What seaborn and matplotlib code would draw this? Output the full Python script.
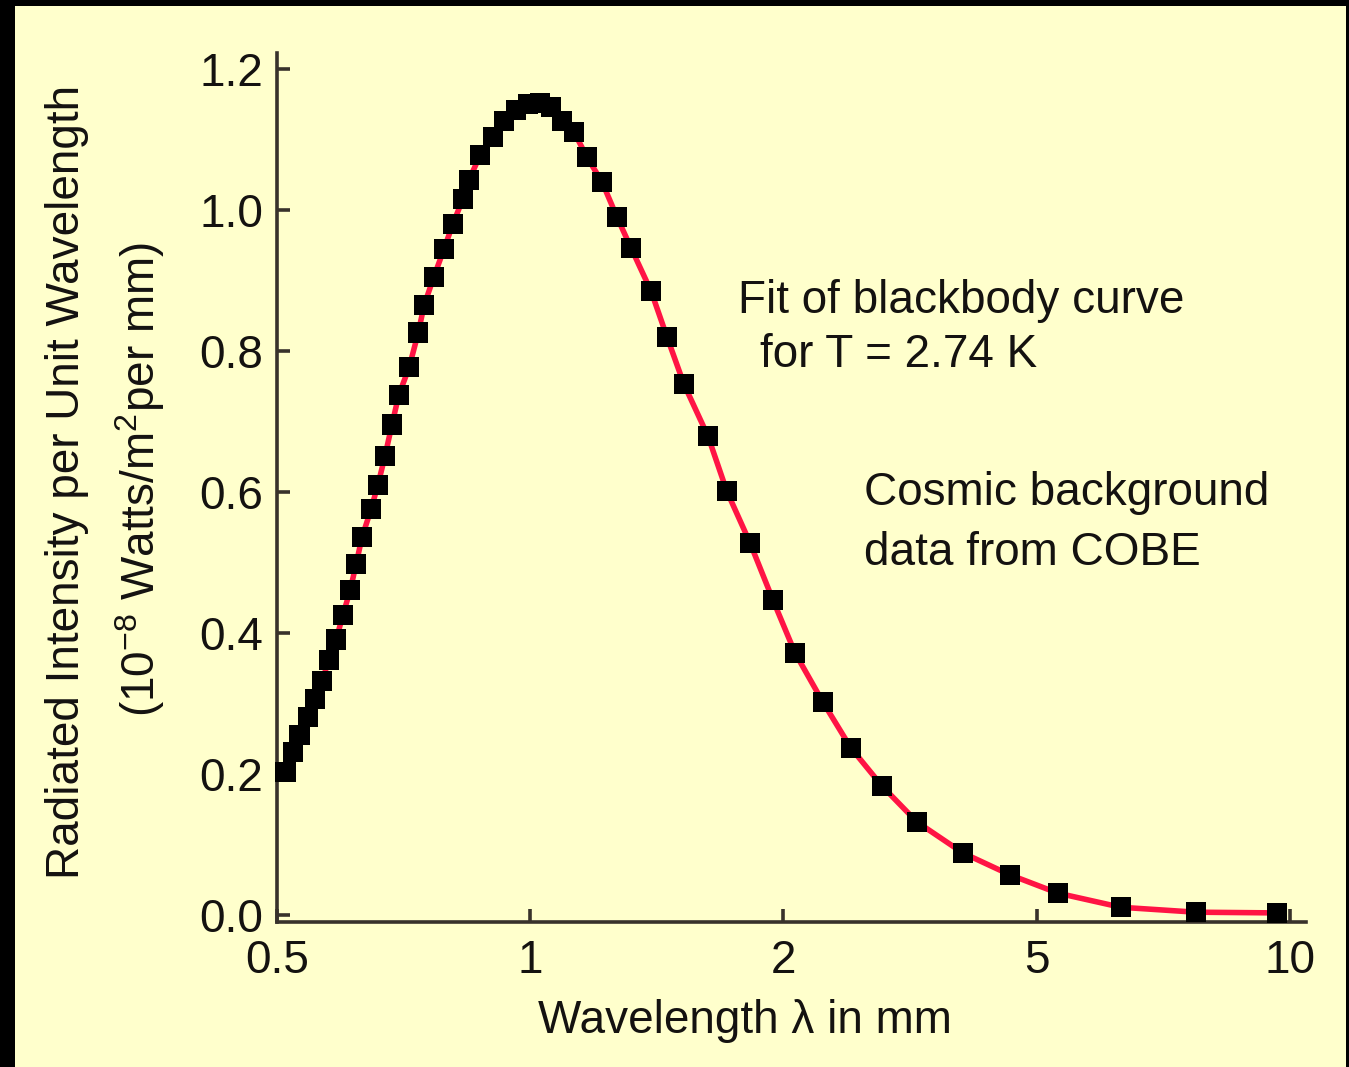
import numpy as np
import pandas as pd
import matplotlib
matplotlib.use("Agg")
import matplotlib.pyplot as plt
from matplotlib.patches import Rectangle
import seaborn as sns

# COBE data points (wavelength in mm, intensity in 1e-8 W/m^2/mm)
wavelength_mm = [
    0.512, 0.522, 0.532, 0.544, 0.555, 0.566, 0.576, 0.588, 0.599, 0.611,
    0.621, 0.631, 0.647, 0.659, 0.672, 0.685, 0.698, 0.718, 0.736, 0.748,
    0.768, 0.790, 0.809, 0.832, 0.846, 0.872, 0.903, 0.931, 0.962, 0.994,
    1.027, 1.058, 1.091, 1.127, 1.168, 1.217, 1.268, 1.318, 1.392, 1.454,
    1.523, 1.627, 1.713, 1.825, 1.943, 2.085, 2.307, 2.553, 2.857, 3.242,
    3.829, 4.539, 5.300, 6.296, 7.732, 9.652,
]
intensity = [
    0.203, 0.231, 0.255, 0.281, 0.306, 0.332, 0.362, 0.391, 0.426, 0.461,
    0.498, 0.536, 0.576, 0.610, 0.651, 0.696, 0.738, 0.777, 0.826, 0.865,
    0.905, 0.945, 0.980, 1.016, 1.043, 1.078, 1.104, 1.126, 1.142, 1.150,
    1.152, 1.146, 1.126, 1.111, 1.075, 1.040, 0.990, 0.946, 0.885, 0.820,
    0.753, 0.679, 0.601, 0.528, 0.447, 0.372, 0.302, 0.237, 0.183, 0.132,
    0.088, 0.057, 0.031, 0.011, 0.004, 0.003,
]
x_ticks = [0.5, 1, 2, 5, 10]
x_tick_labels = ["0.5", "1", "2", "5", "10"]
y_ticks = [0.0, 0.2, 0.4, 0.6, 0.8, 1.0, 1.2]

BG = "#FFFFCC"
RED = "#FF1444"
INK = "#141210"
AXC = "#38322b"
FS = 33

sns.set_theme(style="ticks")
plt.rcParams["font.family"] = ["Liberation Sans", "DejaVu Sans"]
plt.rcParams["mathtext.fontset"] = "custom"
plt.rcParams["mathtext.rm"] = "Liberation Sans"
plt.rcParams["text.color"] = INK

# the x axis has 0.5, 1, 2, 5, 10 equally spaced (log inside each step)
lt = np.log10(np.array(x_ticks, dtype=float))


def fwd(x):
    lx = np.log10(np.clip(np.asarray(x, dtype=float), 1e-9, None))
    i = np.clip(np.searchsorted(lt, lx) - 1, 0, len(lt) - 2)
    return i + (lx - lt[i]) / (lt[i + 1] - lt[i])


def inv(p):
    p = np.asarray(p, dtype=float)
    i = np.clip(np.floor(p).astype(int), 0, len(lt) - 2)
    return 10 ** (lt[i] + (p - i) * (lt[i + 1] - lt[i]))


df = pd.DataFrame({"wavelength": wavelength_mm, "intensity": intensity})

fig = plt.figure(figsize=(13.49, 10.67), dpi=100, facecolor="black")
fig.patches.append(Rectangle((15 / 1349, 0), (1346 - 15) / 1349, 1 - 6 / 1067,
                             transform=fig.transFigure, facecolor=BG,
                             edgecolor="none", zorder=-5))
ax = fig.add_axes([277 / 1349, 1 - 922 / 1067, (1306 - 277) / 1349, (922 - 53) / 1067])
ax.set_facecolor(BG)
ax.set_xscale("function", functions=(fwd, inv))

sns.lineplot(data=df, x="wavelength", y="intensity", color=RED, lw=4.0,
             ax=ax, zorder=2)
sns.scatterplot(data=df, x="wavelength", y="intensity", marker="s", s=215,
                color="black", edgecolor="none", linewidth=0, ax=ax,
                zorder=3, clip_on=False)

ax.set_xlim(0.5, 10.45)
ax.set_ylim(-0.0099, 1.2227)
ax.set_xticks(x_ticks)
ax.set_xticklabels(x_tick_labels)
ax.xaxis.set_minor_locator(matplotlib.ticker.NullLocator())
ax.set_yticks(y_ticks)
ax.set_yticklabels([f"{v:.1f}" for v in y_ticks])
ax.set_xlabel("")
ax.set_ylabel("")

sns.despine(ax=ax)
for s in ("left", "bottom"):
    ax.spines[s].set_linewidth(2.6)
    ax.spines[s].set_color(AXC)
ax.tick_params(axis="both", direction="in", length=9.5, width=2.6,
               color=AXC, labelsize=FS, labelcolor=INK)
ax.tick_params(axis="x", pad=12)
ax.tick_params(axis="y", pad=10)

# axis titles
fig.text(538 / 1349, 1 - 1033 / 1067, "Wavelength λ in mm", fontsize=FS,
         ha="left", va="baseline")
fig.text(67 / 1349, 1 - 482 / 1067, "Radiated Intensity per Unit Wavelength",
         fontsize=FS, rotation=90, ha="center", va="center")
fig.text(140 / 1349, 1 - 480 / 1067,
         r"(10$^{\mathregular{-8}}$ Watts/m$^{\mathregular{2}}$per mm)",
         fontsize=FS, rotation=90, ha="center", va="center")

# annotations
fig.text(738 / 1349, 1 - 313 / 1067, "Fit of blackbody curve", fontsize=FS,
         ha="left", va="baseline")
fig.text(760 / 1349, 1 - 367 / 1067, "for T = 2.74 K", fontsize=FS,
         ha="left", va="baseline")
fig.text(864 / 1349, 1 - 505 / 1067, "Cosmic background", fontsize=FS,
         ha="left", va="baseline")
fig.text(864 / 1349, 1 - 565 / 1067, "data from COBE", fontsize=FS,
         ha="left", va="baseline")

fig.savefig("out.png", dpi=100, facecolor=fig.get_facecolor())
